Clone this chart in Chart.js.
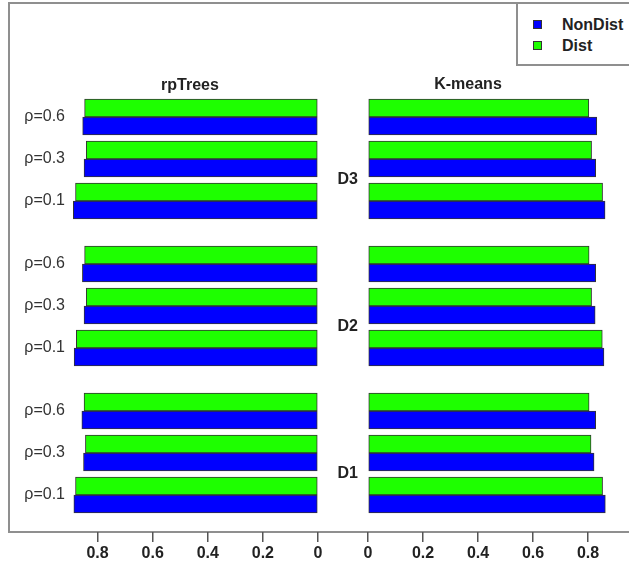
<!DOCTYPE html>
<html>
<head>
<meta charset="utf-8">
<script src="https://cdn.jsdelivr.net/npm/chart.js@4/dist/chart.umd.min.js"></script>
<style>
  html, body { margin: 0; padding: 0; background: #fff; width: 629px; height: 562px; overflow: hidden; }
  body { position: relative; font-family: "Liberation Sans", Arial, Helvetica, sans-serif; }
  .frame { position: absolute; left: 8px; top: 2px; width: 700px; height: 531px; box-sizing: border-box; border: 2px solid #8f8f8f; }
  .panel { position: absolute; top: 0; }
  .title { position: absolute; font-weight: bold; font-size: 16px; color: #222; transform: translate(-50%, -50%); white-space: nowrap; }
  .legend { position: absolute; left: 516px; top: 2px; width: 200px; height: 64px; box-sizing: border-box; border: 2px solid #8f8f8f; background: #fff; z-index: 5; }
  .legend .item { position: absolute; left: 0; font-weight: bold; font-size: 16px; color: #222; }
  .legend .sw { position: absolute; width: 7px; height: 7px; border: 1px solid #333; }
</style>
</head>
<body>
<div class="frame"></div>
<div class="panel" style="left:318px;"><canvas id="right" width="311" height="562"></canvas></div>
<div class="panel" style="left:0;"><canvas id="left" width="343" height="562"></canvas></div>
<div class="title" style="left:190px; top:85px;">rpTrees</div>
<div class="title" style="left:468px; top:84px;">K-means</div>
<div class="legend" id="legend"></div>

<script>
// Data (order: D3, D2, D1; each rho=0.6, 0.3, 0.1)
const blocks = ['D3', 'D2', 'D1'];
const rhoLabels = ['ρ=0.6', 'ρ=0.3', 'ρ=0.1'];
const rpDist    = [0.847, 0.841, 0.880, 0.847, 0.841, 0.877, 0.849, 0.844, 0.880];
const rpNonDist = [0.854, 0.849, 0.888, 0.855, 0.849, 0.885, 0.857, 0.851, 0.886];
const kmDist    = [0.803, 0.813, 0.853, 0.804, 0.813, 0.852, 0.804, 0.811, 0.853];
const kmNonDist = [0.832, 0.828, 0.862, 0.828, 0.826, 0.858, 0.828, 0.822, 0.863];
const xTicks = [0, 0.2, 0.4, 0.6, 0.8];

const COLORS = { dist: '#1eff00', nonDist: '#0000ff', border: '#333333', text: '#222222', tick: '#555555' };
const FONT = '"Liberation Sans", Arial, Helvetica, sans-serif';

// slot positions on the index axis: groups of three, a wider gap between blocks
const nRows = rhoLabels.length * blocks.length;
const positions = [];
for (let i = 0; i < nRows; i++) {
  const b = Math.floor(i / rhoLabels.length), r = i % rhoLabels.length;
  positions.push(b * 7 + r * 2);
}
const blockPos = blocks.map((_, b) => b * 7 + 3);
const rowLabels = positions.map((_, i) => rhoLabels[i % rhoLabels.length]);

function points(values) {
  return values.map((v, i) => ({ x: v, y: positions[i] }));
}

function makeChart(id, dist, nonDist, opts) {
  const ctx = document.getElementById(id);
  return new Chart(ctx, {
    type: 'bar',
    data: {
      datasets: [
        { label: 'Dist', data: points(dist), backgroundColor: COLORS.dist },
        { label: 'NonDist', data: points(nonDist), backgroundColor: COLORS.nonDist },
      ],
    },
    options: {
      responsive: false,
      animation: false,
      indexAxis: 'y',
      barThickness: 18,
      borderWidth: 1,
      borderColor: COLORS.border,
      borderSkipped: false,
      layout: { padding: { top: 3, right: opts.padRight, left: 0, bottom: 0 } },
      scales: {
        x: {
          type: 'linear',
          reverse: opts.reverse,
          min: 0,
          max: 0.9,
          afterFit: (s) => { s.height = 30; s.paddingLeft = 0; s.paddingRight = 0; },
          afterBuildTicks: (s) => { s.ticks = xTicks.map(v => ({ value: v })); },
          border: { display: false },
          grid: { drawOnChartArea: false, drawTicks: true, tickLength: 10, color: COLORS.tick, lineWidth: 1.5 },
          ticks: {
            color: COLORS.text,
            padding: 2,
            maxRotation: 0,
            font: { family: FONT, size: 16, weight: 'bold' },
            callback: (v) => (v === 0 ? '0' : Number(v).toFixed(1)),
          },
        },
        y: {
          type: 'linear',
          offset: false,
          reverse: true,
          min: -5.4286,
          max: 19.762,
          afterFit: (s) => { s.width = opts.yWidth; s.paddingTop = 0; s.paddingBottom = 0; },
          afterBuildTicks: (s) => { s.ticks = opts.yPos.map(v => ({ value: v })); },
          border: { display: false },
          grid: { display: false, drawTicks: false },
          ticks: {
            color: opts.yColor,
            padding: opts.yPad,
            autoSkip: false,
            font: { family: FONT, size: 16, weight: opts.yWeight },
            callback: (v, i) => opts.yLabels[i],
          },
        },
      },
      plugins: { legend: { display: false }, tooltip: { enabled: false } },
    },
  });
}

makeChart('left', rpDist, rpNonDist, {
  reverse: true, padRight: 25, yWidth: 70, yPad: 5, yPos: positions, yLabels: rowLabels,
  yColor: '#333333', yWeight: 'normal',
});
makeChart('right', kmDist, kmNonDist, {
  reverse: false, padRight: 13.5, yWidth: 50, yPad: 10, yPos: blockPos, yLabels: blocks,
  yColor: COLORS.text, yWeight: 'bold',
});

// legend box (top right, as in the original)
const legendItems = [
  { label: 'NonDist', color: COLORS.nonDist, y: 24 },
  { label: 'Dist', color: COLORS.dist, y: 45 },
];
const legend = document.getElementById('legend');
legendItems.forEach(it => {
  const sw = document.createElement('div');
  sw.className = 'sw';
  sw.style.left = '15px';
  sw.style.top = (it.y - 2 - 6) + 'px';
  sw.style.background = it.color;
  legend.appendChild(sw);
  const t = document.createElement('div');
  t.className = 'item';
  t.textContent = it.label;
  t.style.left = '44px';
  t.style.top = (it.y - 2 - 10) + 'px';
  legend.appendChild(t);
});
</script>
</body>
</html>
